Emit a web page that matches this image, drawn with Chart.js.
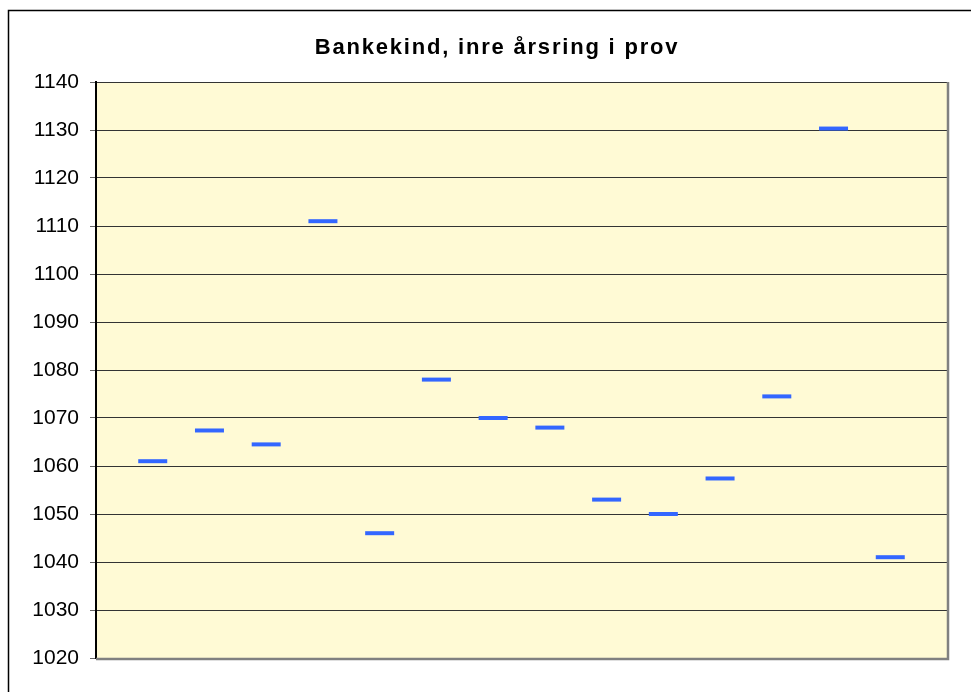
<!DOCTYPE html>
<html>
<head>
<meta charset="utf-8">
<script src="https://cdn.jsdelivr.net/npm/chart.js@4/dist/chart.umd.min.js"></script>
<style>
  html, body { margin: 0; padding: 0; background: #fff; }
  #wrap { width: 971px; height: 692px; }
</style>
</head>
<body>
<div id="wrap"><canvas id="chart" width="971" height="692"></canvas></div>
<script>
// sample number along the x axis (axis runs 0..15, samples sit at 1..14)
const samples = [1, 2, 3, 4, 5, 6, 7, 8, 9, 10, 11, 12, 13, 14];
// inner tree ring year for each sample
const innerRing = [1061, 1067.4, 1064.5, 1111, 1046, 1078, 1070, 1068, 1053, 1050, 1057.4, 1074.5, 1130.3, 1041];
const yTicks = [1020, 1030, 1040, 1050, 1060, 1070, 1080, 1090, 1100, 1110, 1120, 1130, 1140];
const chartTitle = 'Bankekind, inre årsring i prov';

const frame = {
    id: 'frame',
    beforeDraw: function(chart) {
        const ctx = chart.ctx;
        const a = chart.chartArea;
        ctx.save();
        // outer chart border (runs off the page right/bottom)
        ctx.strokeStyle = '#000';
        ctx.lineWidth = 1.5;
        ctx.strokeRect(8.5, 10.5, 1000, 1000);
        // plot area fill
        ctx.fillStyle = '#FFFAD5';
        ctx.fillRect(a.left, a.top, a.right - a.left, a.bottom - a.top);
        ctx.restore();
    },
    afterDatasetsDraw: function(chart) {
        const ctx = chart.ctx;
        const a = chart.chartArea;
        ctx.save();
        // grey shadow edge right and bottom
        ctx.strokeStyle = '#808080';
        ctx.lineWidth = 2.5;
        ctx.beginPath();
        ctx.moveTo(a.right + 1, a.top);
        ctx.lineTo(a.right + 1, a.bottom + 1);
        ctx.lineTo(a.left, a.bottom + 1);
        ctx.stroke();
        // title, spaced out like the original
        ctx.fillStyle = '#000';
        ctx.font = 'bold 22px "Liberation Sans", Arial, sans-serif';
        ctx.letterSpacing = '1.8px';
        ctx.textAlign = 'center';
        ctx.textBaseline = 'alphabetic';
        ctx.fillText(chartTitle, 497, 54);
        ctx.restore();
    }
};

new Chart(document.getElementById('chart'), {
    type: 'scatter',
    data: {
        datasets: [{
            label: 'Inre årsring',
            data: samples.map((s, i) => ({ x: s, y: innerRing[i] })),
            showLine: false,
            pointStyle: 'line',
            pointRadius: 14.5,
            pointHoverRadius: 14.5,
            pointBorderWidth: 4,
            borderColor: '#3366FF',
            backgroundColor: '#3366FF'
        }]
    },
    options: {
        responsive: false,
        animation: false,
        layout: { padding: { left: 0, right: 24, top: 82, bottom: 34 } },
        plugins: {
            legend: { display: false },
            tooltip: { enabled: false },
            title: { display: false }
        },
        scales: {
            x: {
                type: 'linear',
                min: 0,
                max: 15,
                display: false
            },
            y: {
                min: 1020,
                max: 1140,
                afterBuildTicks: function(axis) {
                    axis.ticks = yTicks.map(v => ({ value: v }));
                },
                afterFit: function(axis) { axis.width = 96; },
                border: { color: '#000', width: 2 },
                grid: {
                    color: '#333',
                    lineWidth: 1,
                    tickLength: 6,
                    tickColor: '#666'
                },
                ticks: {
                    color: '#000',
                    padding: 11,
                    font: { family: 'Liberation Sans, Arial, sans-serif', size: 21 },
                    callback: function(v) { return String(v); }
                }
            }
        }
    },
    plugins: [frame]
});
</script>
</body>
</html>
